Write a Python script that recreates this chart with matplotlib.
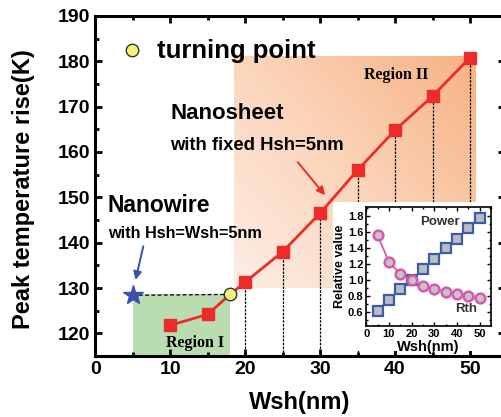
import numpy as np
import matplotlib
matplotlib.use("Agg")
import matplotlib.pyplot as plt
from matplotlib.colors import LinearSegmentedColormap
from matplotlib.patches import Rectangle
from matplotlib.ticker import MultipleLocator, FormatStrFormatter

plt.rcParams['font.family'] = ['Liberation Sans', 'DejaVu Sans']
plt.rcParams['font.weight'] = 'bold'

# Peak temperature rise of the nanosheet vs sheet width
wsh = [10, 15, 20, 25, 30, 35, 40, 45, 50]
peak_rise = [121.8, 124.2, 131.3, 138.0, 146.5, 156.0, 164.8, 172.3, 180.8]

# Nanowire reference and turning point
nanowire_w, nanowire_t = 5, 128.4
turn_w, turn_t = 18, 128.6

# Inset: relative power and thermal resistance
inset_w = [5, 10, 15, 20, 25, 30, 35, 40, 45, 50]
power_rel = [0.62, 0.76, 0.89, 1.00, 1.14, 1.27, 1.40, 1.52, 1.65, 1.78]
rth_rel = [1.56, 1.23, 1.08, 1.00, 0.93, 0.89, 0.86, 0.83, 0.80, 0.78]

fig = plt.figure(figsize=(5.01, 4.17), dpi=100)
ax = fig.add_axes([0.19, 0.146, 0.818, 0.816])
ax.set_xlim(0, 54.67)
ax.set_ylim(115, 190)

# Region II shaded with a gradient
cmap = LinearSegmentedColormap.from_list("peach", ["#fdeee6", "#fbd3b8", "#f6b283"])
gx, gy = np.meshgrid(np.linspace(0, 1, 200), np.linspace(0, 1, 200))
grad = 0.55 * gx + 0.45 * gy
ax.imshow(grad, extent=[18.5, 50.7, 130, 181], origin='lower', cmap=cmap,
          aspect='auto', zorder=0, vmin=0, vmax=1)

# Region I
ax.fill_between([nanowire_w, turn_w], 115, turn_t, color="#b9dcb0", zorder=0.5, lw=0)

# drop lines from each nanosheet point
for x, y in zip(wsh[2:], peak_rise[2:]):
    ax.plot([x, x], [115, y], color='black', lw=0.9, ls=(0, (2, 1)), zorder=1)

# dashed line from nanowire to turning point
ax.plot([nanowire_w, turn_w], [nanowire_t, turn_t], color='black', lw=0.9,
        ls=(0, (3, 2)), zorder=1)

ax.plot(wsh[:2] + [turn_w] + wsh[2:], peak_rise[:2] + [turn_t] + peak_rise[2:],
        color='#ee2b2b', lw=2, zorder=2)
ax.plot(wsh, peak_rise, ls='none', marker='s', ms=9, color='#ee2b2b', zorder=3)
ax.plot(turn_w, turn_t, marker='o', ms=9, mfc='#f4f07a', mec='#333333', mew=1, zorder=4)
ax.plot(nanowire_w, nanowire_t, marker='*', ms=15, color='#3a4fb0', zorder=4)

# legend-like marker for the turning point
ax.plot(4.9, 182.5, marker='o', ms=9, mfc='#f4f07a', mec='#333333', mew=1, clip_on=False)
ax.text(8.2, 182.3, "turning point", fontsize=18.5, fontweight='bold', va='center')

ax.text(10, 168.5, "Nanosheet", fontsize=16, fontweight='bold', va='center')
ax.text(10, 161.5, "with fixed Hsh=5nm", fontsize=13.3, fontweight='bold', va='center')
ax.text(1.7, 148.2, "Nanowire", fontsize=16.5, fontweight='bold', va='center')
ax.text(1.7, 142.0, "with Hsh=Wsh=5nm", fontsize=11.7, fontweight='bold', va='center')

ax.text(40.2, 177, "Region II", fontsize=11.5, fontweight='bold', ha='center', va='center',
        family=['Liberation Serif', 'DejaVu Serif'])
ax.text(13.3, 118.0, "Region I", fontsize=11.5, fontweight='bold', ha='center', va='center',
        family=['Liberation Serif', 'DejaVu Serif'])

ax.annotate("", xy=(30.9, 150), xytext=(26.8, 158.2),
            arrowprops=dict(arrowstyle='-|>', color='#ee2b2b', lw=1.4, mutation_scale=12))
ax.annotate("", xy=(5.3, 131.2), xytext=(6.5, 139.8),
            arrowprops=dict(arrowstyle='-|>', color='#3a4fb0', lw=1.4, mutation_scale=12))

ax.xaxis.set_major_locator(MultipleLocator(10))
ax.xaxis.set_minor_locator(MultipleLocator(5))
ax.yaxis.set_major_locator(MultipleLocator(10))
ax.yaxis.set_minor_locator(MultipleLocator(5))
ax.tick_params(which='both', direction='in', top=True, right=True, width=2,
               labelsize=14)
ax.tick_params(which='major', length=5)
ax.tick_params(which='minor', length=3)
for lab in ax.get_xticklabels() + ax.get_yticklabels():
    lab.set_fontweight('bold')
for s in ax.spines.values():
    s.set_linewidth(2.2)
ax.set_xlabel("Wsh(nm)", fontsize=17, fontweight='bold')
ax.set_ylabel("Peak temperature rise(K)", fontsize=17, fontweight='bold')
ax.xaxis.label.set_verticalalignment('center')
ax.yaxis.label.set_verticalalignment('center')
ax.xaxis.set_label_coords(0.5, -0.135)
ax.yaxis.set_label_coords(-0.176, 0.49)

# white backdrop behind the inset
ax.add_patch(Rectangle((0.665, 0.158), 0.327, 0.357, transform=fig.transFigure,
                       facecolor='white', edgecolor='none', zorder=5, clip_on=False))

# Inset
ins = fig.add_axes([0.731, 0.218, 0.249, 0.285])
ins.set_xlim(0, 55)
ins.set_ylim(0.43, 1.91)
ins.plot(inset_w, power_rel, color='#3a5bb0', lw=1.3, marker='s', ms=6.5,
         mfc='#bdbdbd', mec='#3a5bb0', mew=1.6)
ins.plot(inset_w, rth_rel, color='#d958b0', lw=1.3, marker='o', ms=7,
         mfc='#c4c4c4', mec='#d958b0', mew=1.8)
ins.text(32.5, 1.73, "Power", fontsize=9.5, fontweight='bold', ha='center', va='center',
         color='#333333')
ins.text(44, 0.64, "Rth", fontsize=9.5, fontweight='bold', ha='center', va='center',
         color='#333333')
ins.xaxis.set_major_locator(MultipleLocator(10))
ins.xaxis.set_minor_locator(MultipleLocator(5))
ins.yaxis.set_major_locator(MultipleLocator(0.2))
ins.yaxis.set_minor_locator(MultipleLocator(0.1))
ins.tick_params(which='both', direction='in', top=True, right=True, width=1,
                labelsize=8, pad=2)
ins.tick_params(which='major', length=3)
ins.tick_params(which='minor', length=1.5)
ins.yaxis.set_major_formatter(FormatStrFormatter('%.1f'))
for lab in ins.get_xticklabels() + ins.get_yticklabels():
    lab.set_fontweight('bold')
for s in ins.spines.values():
    s.set_linewidth(1.2)
ins.set_xlabel("Wsh(nm)", fontsize=10.5, fontweight='bold', labelpad=1)
ins.set_ylabel("Relative value", fontsize=9, fontweight='bold', labelpad=1)

fig.savefig("out.png", dpi=100)
